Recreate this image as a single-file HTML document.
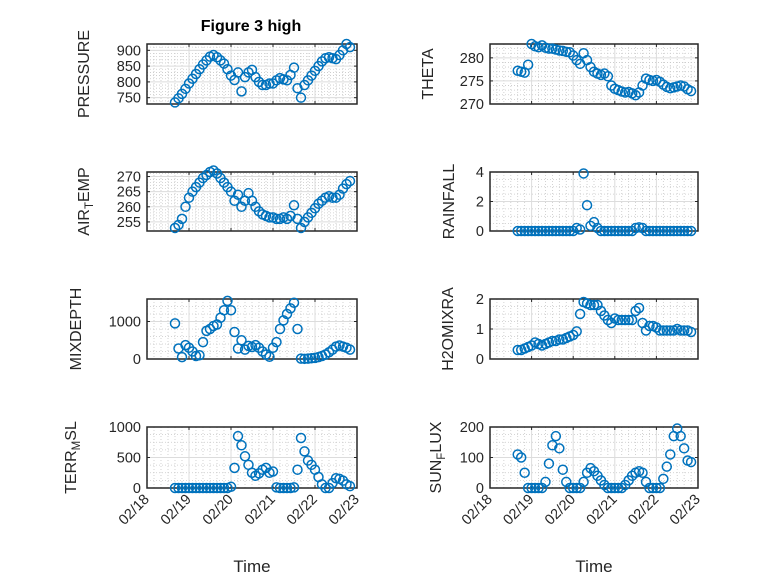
<!DOCTYPE html>
<html><head><meta charset="utf-8"><style>
html,body{margin:0;padding:0;background:#fff;}
svg{display:block;font-family:"Liberation Sans","DejaVu Sans",sans-serif;}
</style></head><body>
<svg id="fig" width="778" height="583" viewBox="0 0 778 583" xmlns="http://www.w3.org/2000/svg">
<rect width="778" height="583" fill="#fff"/>
<text x="251" y="31" text-anchor="middle" font-size="16" font-weight="bold" fill="#000">Figure 3 high</text>
</svg>
<script>
const hours = [16,18,20,22,24,26,28,30,32,34,36,38,40,42,44,46,48,50,52,54,56,58,60,62,64,66,68,70,72,74,76,78,80,82,84,86,88,90,92,94,96,98,100,102,104,106,108,110,112,114,116];
const dateLabels = ["02/18","02/19","02/20","02/21","02/22","02/23"];
const pressure = [735,748,762,778,795,810,825,840,855,868,880,885,878,868,858,840,820,806,830,770,815,830,838,815,800,790,790,795,795,805,812,808,805,822,845,780,750,790,805,820,835,850,865,875,878,875,872,885,900,920,910];
const theta = [277.2,277.0,276.8,278.5,283,282.5,282.3,282.7,282.2,282,282,281.8,281.6,281.5,281.3,281.2,280.5,279.5,278.7,281,279.5,278,277,276.6,276.3,276.6,276,274,273.3,273,272.7,272.5,272.6,272.3,271.9,272.5,274,275.5,275.2,275,275.2,274.8,274.2,273.7,273.4,273.6,273.8,274,273.8,273.2,272.8];
const airTemp = [253,254,256,260,263,265,266.5,268,269.5,270.5,271.5,272,271,269.5,268,266.5,265,262,264,260,262,264.5,262,260,258.5,257.5,257,256.5,256.5,256,256,256.5,256,257,260.5,256,253,255,256.5,258,259.5,261,262,263,263.5,263,263,264,266,267.5,268.5];
const rainfall = [0,0,0,0,0,0,0,0,0,0,0,0,0,0,0,0,0,0.2,0.1,3.9,1.75,0.35,0.6,0.2,0,0,0,0,0,0,0,0,0,0,0.2,0.25,0.2,0,0,0,0,0,0,0,0,0,0,0,0,0,0];
const mixDepth = [950,280,50,370,300,200,80,100,450,750,800,880,920,1100,1300,1550,1300,720,280,500,250,350,320,370,300,200,120,60,300,450,800,1030,1200,1350,1500,800,10,5,10,20,30,50,80,120,180,250,330,360,330,300,250];
const h2oMix = [0.3,0.3,0.35,0.4,0.45,0.55,0.5,0.45,0.5,0.55,0.6,0.6,0.65,0.65,0.7,0.75,0.8,0.92,1.5,1.9,1.85,1.8,1.8,1.8,1.6,1.45,1.3,1.2,1.35,1.3,1.3,1.3,1.3,1.3,1.6,1.7,1.2,0.95,1.1,1.1,1.05,0.95,0.95,0.95,0.95,0.95,1.0,0.95,0.95,0.95,0.9];
const terrMsl = [0,0,0,0,0,0,0,0,0,0,0,0,0,0,0,0,20,330,850,700,520,380,250,200,240,300,330,250,270,10,0,0,0,0,10,300,820,600,450,380,300,180,60,0,0,80,160,150,120,60,30];
const sunFlux = [110,100,50,0,0,0,0,0,20,80,140,170,130,60,20,0,0,0,0,20,50,65,55,40,25,10,0,0,0,0,0,10,25,40,50,55,50,20,0,0,0,0,30,70,110,170,195,170,130,90,85];

const NS="http://www.w3.org/2000/svg";
const svg=document.getElementById('fig');
function el(tag,attrs,parent){const e=document.createElementNS(NS,tag);for(const k in attrs)e.setAttribute(k,attrs[k]);(parent||svg).appendChild(e);return e;}

const panels=[
 {key:'pressure',data:pressure,x0:147,x1:357,y0:44,y1:104,ymin:730,ymax:920,ticks:[750,800,850,900],minor:10,lab:['PRESSURE'],lx:89,xt:false},
 {key:'theta',data:theta,x0:490,x1:698,y0:44,y1:104,ymin:270,ymax:283,ticks:[270,275,280],minor:1,lab:['THETA'],lx:433,xt:false},
 {key:'air-temp',data:airTemp,x0:147,x1:357,y0:172,y1:231,ymin:252,ymax:271.5,ticks:[255,260,265,270],minor:1,lab:['AIR','T','EMP'],lx:89,xt:false},
 {key:'rainfall',data:rainfall,x0:490,x1:698,y0:172,y1:231,ymin:0,ymax:4,ticks:[0,2,4],minor:0.5,lab:['RAINFALL'],lx:454,xt:false},
 {key:'mixdepth',data:mixDepth,x0:147,x1:357,y0:299,y1:359,ymin:0,ymax:1600,ticks:[0,1000],minor:200,lab:['MIXDEPTH'],lx:81,xt:false},
 {key:'h2omixra',data:h2oMix,x0:490,x1:698,y0:299,y1:359,ymin:0,ymax:2,ticks:[0,1,2],minor:0.25,lab:['H2OMIXRA'],lx:453,xt:false},
 {key:'terr-msl',data:terrMsl,x0:147,x1:357,y0:427,y1:488,ymin:0,ymax:1000,ticks:[0,500,1000],minor:125,lab:['TERR','M','SL'],lx:76,xt:true},
 {key:'sun-flux',data:sunFlux,x0:490,x1:698,y0:427,y1:488,ymin:0,ymax:200,ticks:[0,100,200],minor:25,lab:['SUN','F','LUX'],lx:441,xt:true}
];

panels.forEach(p=>{
  const g=el('g',{});
  
  
  const xs=h=>p.x0+h/120*(p.x1-p.x0);
  const ys=v=>p.y1-(v-p.ymin)/(p.ymax-p.ymin)*(p.y1-p.y0);
  for(let h=4;h<120;h+=4){if(h%24===0)continue;el('line',{x1:xs(h),x2:xs(h),y1:p.y0,y2:p.y1,stroke:'#c8c8c8','stroke-width':0.8,'stroke-dasharray':'1,2'},g);}
  for(let v=Math.ceil(p.ymin/p.minor)*p.minor;v<=p.ymax;v+=p.minor){if(p.ticks.some(t=>Math.abs(t-v)<1e-9))continue;el('line',{x1:p.x0,x2:p.x1,y1:ys(v),y2:ys(v),stroke:'#c8c8c8','stroke-width':0.8,'stroke-dasharray':'1,2'},g);}
  for(let d=1;d<5;d++){el('line',{x1:xs(d*24),x2:xs(d*24),y1:p.y0,y2:p.y1,stroke:'#dcdcdc','stroke-width':1},g);}
  p.ticks.forEach(t=>{el('line',{x1:p.x0,x2:p.x1,y1:ys(t),y2:ys(t),stroke:'#dcdcdc','stroke-width':1},g);});
  el('rect',{x:p.x0,y:p.y0,width:p.x1-p.x0,height:p.y1-p.y0,fill:'none',stroke:'#262626','stroke-width':1.5},g);
  for(let d=0;d<=5;d++){const x=xs(d*24);el('line',{x1:x,x2:x,y1:p.y1,y2:p.y1-3,stroke:'#262626'},g);el('line',{x1:x,x2:x,y1:p.y0,y2:p.y0+3,stroke:'#262626'},g);}
  p.ticks.forEach(t=>{
    el('line',{x1:p.x0,x2:p.x0+3,y1:ys(t),y2:ys(t),stroke:'#262626'},g);
    el('line',{x1:p.x1,x2:p.x1-3,y1:ys(t),y2:ys(t),stroke:'#262626'},g);
    const tl=el('text',{x:p.x0-6,y:ys(t)+5,'text-anchor':'end','font-size':14.5,fill:'#262626'},g);
    
    
    tl.textContent=t;
  });
  const yl=el('text',{x:0,y:0,transform:`translate(${p.lx},${(p.y0+p.y1)/2}) rotate(-90)`,'text-anchor':'middle','font-size':16,fill:'#262626'},g);
  
  
  if(p.lab.length===1){yl.textContent=p.lab[0];}
  else{
    const a=el('tspan',{},yl);a.textContent=p.lab[0];
    const b=el('tspan',{'font-size':11.5,dy:4},yl);b.textContent=p.lab[1];
    const c=el('tspan',{dy:-4},yl);c.textContent=p.lab[2];
  }
  if(p.xt){
    dateLabels.forEach((lab,i)=>{
      const x=xs(i*24);
      const t=el('text',{x:0,y:0,transform:`translate(${x+3},${p.y1+12}) rotate(-45)`,'text-anchor':'end','font-size':14.5,fill:'#262626'},g);
      
      
      t.textContent=lab;
    });
    const tt=el('text',{x:(p.x0+p.x1)/2,y:572,'text-anchor':'middle','font-size':17,fill:'#262626'},g);
    
    
    tt.textContent='Time';
  }
  const mg=el('g',{},g);
  
  
  hours.forEach((h,i)=>{
    const c=el('circle',{cx:xs(h),cy:ys(p.data[i]),r:4.5,fill:'none',stroke:'#0072BD','stroke-width':1.5},mg);
    
    
  });
});
</script>
</body></html>
